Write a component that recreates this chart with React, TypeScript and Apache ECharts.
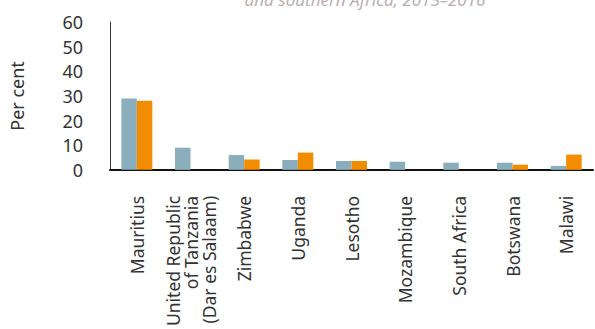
import React, { useEffect, useRef } from "react";
import * as echarts from "echarts";

const categories = [
  "Mauritius",
  "United Republic\nof Tanzania\n(Dar es Salaam)",
  "Zimbabwe",
  "Uganda",
  "Lesotho",
  "Mozambique",
  "South Africa",
  "Botswana",
  "Malawi",
];
const series2015 = [29, 9, 6, 4, 3.6, 3.3, 2.9, 2.9, 1.6];
const series2016 = [28, null, 4.2, 7, 3.6, null, null, 2.1, 6.2];
const yTicks = { min: 0, max: 60, interval: 10 };
const titleText = "and southern Africa, 2015\u20132016";

export default function App() {
  const ref = useRef<HTMLDivElement>(null);
  useEffect(() => {
    if (!ref.current) return;
    const chart = echarts.init(ref.current, undefined, { renderer: "svg" });
    const font = "'Noto Sans', 'Open Sans', sans-serif";
    chart.setOption({
      animation: false,
      textStyle: { fontFamily: font },
      graphic: [
        {
          type: "text",
          x: 365,
          y: -1,
          style: {
            text: titleText,
            font: "italic 17px " + font,
            fill: "#b8b0b0",
            align: "center",
            verticalAlign: "middle",
          },
        },
      ],
      grid: { left: 105, right: 2, top: 22, bottom: 157, containLabel: false },
      xAxis: {
        type: "category",
        data: categories,
        axisLine: { show: true, lineStyle: { color: "#111", width: 2 } },
        axisTick: { show: false },
        axisLabel: {
          rotate: 90,
          interval: 0,
          margin: 26,
          fontSize: 17.5,
          lineHeight: 18,
          color: "#333",
          fontFamily: font,
        },
      },
      yAxis: {
        type: "value",
        min: yTicks.min,
        max: yTicks.max,
        interval: yTicks.interval,
        name: "Per cent",
        nameLocation: "middle",
        nameGap: 84,
        nameRotate: 90,
        nameTextStyle: { fontSize: 18, color: "#333", fontFamily: font },
        axisLine: { show: true, lineStyle: { color: "#333", width: 1 } },
        axisTick: { show: false },
        splitLine: { show: false },
        axisLabel: { fontSize: 18, color: "#333", margin: 27, fontFamily: font },
      },
      series: [
        {
          type: "bar",
          data: series2015,
          barWidth: 15.5,
          barGap: "0%",
          itemStyle: { color: "#8baebd" },
        },
        {
          type: "bar",
          data: series2016,
          barWidth: 15.5,
          itemStyle: { color: "#f28c00" },
        },
      ],
    });
    return () => chart.dispose();
  }, []);
  return <div ref={ref} style={{ width: 595, height: 329, position: "absolute", left: 0, top: 0 }} />;
}
